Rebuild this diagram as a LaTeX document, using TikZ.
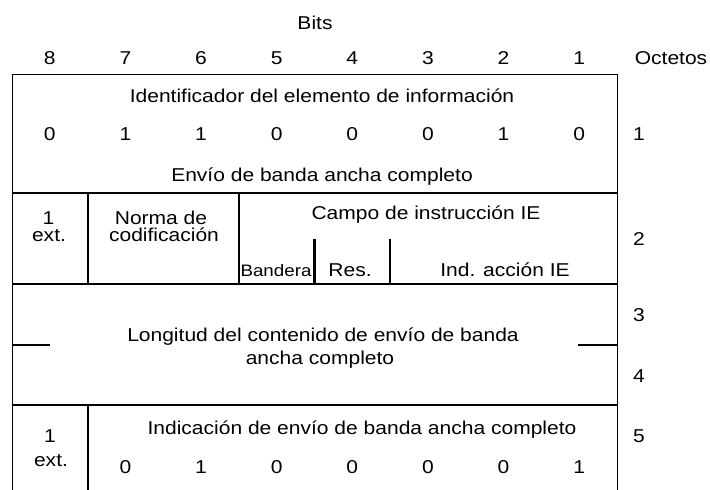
\documentclass[tikz,border=0pt]{standalone}
\usepackage{fontspec}
\setmainfont{Liberation Sans}[FakeStretch=1.13]
\begin{document}
\begin{tikzpicture}[x=0.5pt,y=-0.5pt,
  lbl/.style={anchor=base,inner sep=0pt},
  small/.style={lbl,font=\fontsize{8.3}{10}\selectfont},
  frame/.style={line width=0.5pt},
  rule/.style={line width=1.1pt},
  font=\fontsize{9.3}{11}\selectfont]
\useasboundingbox (0,0) rectangle (710,490);
% header
\node[lbl] (bits) at (315,29.5) {Bits};
\foreach \i in {1,...,8} \node[lbl] (bit\i) at ({12+75.625*(8.5-\i)},65) {\i};
\node[lbl] (octetos) at (671,65) {Octetos};
% frame and rules
\draw[frame] (12,490) -- (12,75) -- (617,75) -- (617,490);
\draw[rule] (12,193) -- (617,193);
\draw[rule] (12,284) -- (617,284);
\draw[rule] (12,405) -- (617,405);
\draw[rule] (87.6,193) -- (87.6,284);
\draw[rule] (238.9,193) -- (238.9,284);
\draw[rule] (314.5,239) -- (314.5,284);
\draw[rule] (390.1,239) -- (390.1,284);
\draw[rule] (12,345) -- (50,345);
\draw[rule] (578,345) -- (617,345);
\draw[rule] (87.6,405) -- (87.6,490);
% octet 1
\node[lbl] (ident) at (322,103) {Identificador del elemento de información};
\foreach \i/\v in {8/0,7/1,6/1,5/0,4/0,3/0,2/1,1/0}
  \node[lbl] (o1b\i) at ({12+75.625*(8.5-\i)},140.5) {\v};
\node[lbl] (envio) at (322,182) {Envío de banda ancha completo};
% octet 2
\node[lbl] (ext2) at (48.5,225) {1};
\node[lbl] (ext2b) at (49,241.7) {ext.};
\node[lbl] (norma) at (161,225) {Norma de};
\node[lbl] (codif) at (164,241.7) {codificación};
\node[lbl] (campo) at (426,220) {Campo de instrucción IE};
\node[small] (bandera) at (276,276.7) {Bandera};
\node[lbl] (res) at (350,276.7) {Res.};
\node[lbl] (accion) at (505,276.7) {Ind. acción IE};
% octets 3 and 4
\node[lbl] (longa) at (323,341.7) {Longitud del contenido de envío de banda};
\node[lbl] (longb) at (320,365) {ancha completo};
% octet 5
\node[lbl] (ext5) at (50,443) {1};
\node[lbl] (ext5b) at (51,466.7) {ext.};
\node[lbl] (indic) at (362,435) {Indicación de envío de banda ancha completo};
\foreach \i/\v in {7/0,6/1,5/0,4/0,3/0,2/0,1/1}
  \node[lbl] (o5b\i) at ({12+75.625*(8.5-\i)},473) {\v};
% octet numbers
\foreach \n/\y in {1/140.5,2/246,3/321.7,4/382.7,5/443}
  \node[lbl] (oct\n) at (639,\y) {\n};
\end{tikzpicture}
\end{document}
